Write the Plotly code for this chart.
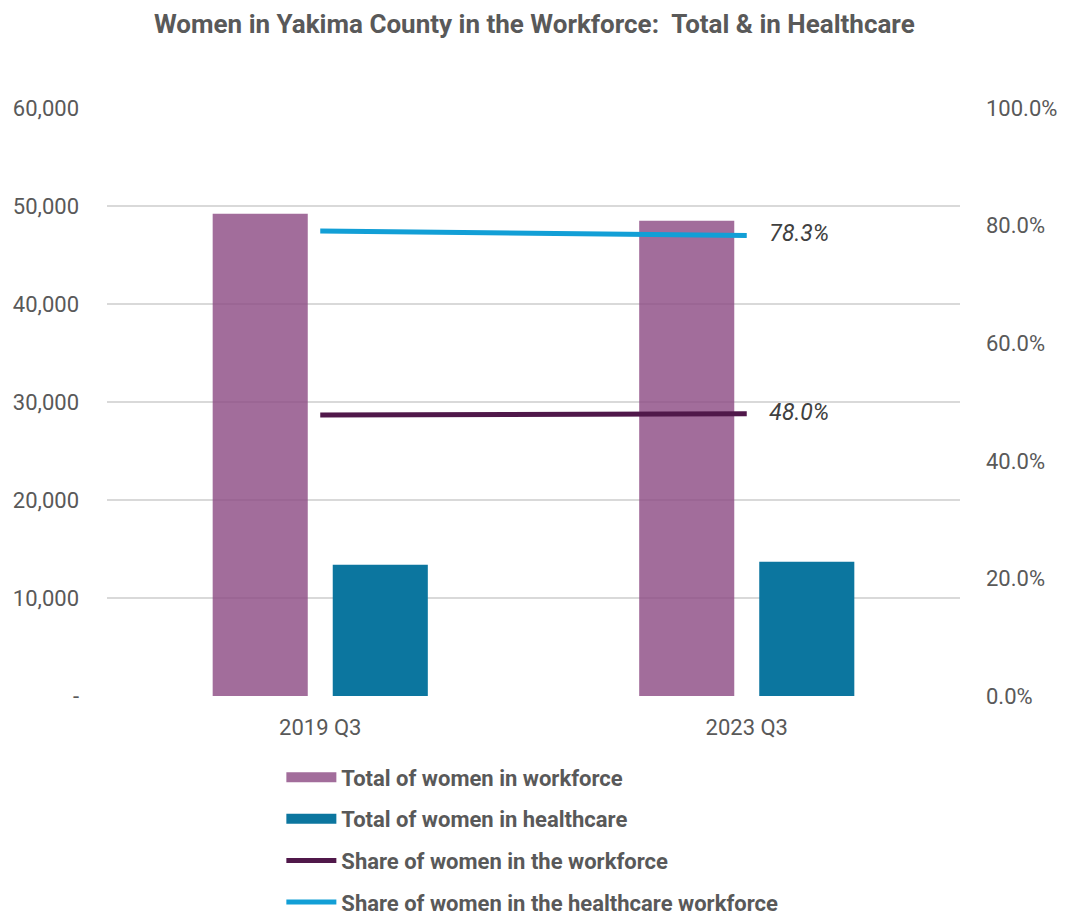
import plotly.graph_objects as go

# Données du graphique
quarters = ["2019 Q3", "2023 Q3"]
women_workforce = [49200, 48500]
women_healthcare = [13400, 13700]
share_workforce = [0.478, 0.480]
share_healthcare = [0.791, 0.783]

left_ticks = [0, 10000, 20000, 30000, 40000, 50000, 60000]
left_labels = ["-", "10,000", "20,000", "30,000", "40,000", "50,000", "60,000"]

font_main = "Roboto, Arial"
grey = "#595959"
purple = "rgba(139,72,130,0.8)"
teal = "#0C769F"

fig = go.Figure()

# Barres (axe principal) - légende remplacée par des rectangles larges
fig.add_trace(go.Bar(
    x=quarters, y=women_workforce, name="Total of women in workforce",
    marker=dict(color=purple, line=dict(width=0)),
    showlegend=False, hoverinfo="skip"
))
fig.add_trace(go.Bar(
    x=quarters, y=women_healthcare, name="Total of women in healthcare",
    marker=dict(color=teal, line=dict(width=0)),
    showlegend=False, hoverinfo="skip"
))

# entrées de légende pour les barres
fig.add_trace(go.Scatter(
    x=[None], y=[None], mode="lines", name="Total of women in workforce",
    line=dict(color=purple, width=14), legendgroup="a"
))
fig.add_trace(go.Scatter(
    x=[None], y=[None], mode="lines", name="Total of women in healthcare",
    line=dict(color=teal, width=14), legendgroup="b"
))

# Lignes (axe secondaire)
fig.add_trace(go.Scatter(
    x=quarters, y=share_workforce, name="Share of women in the workforce",
    mode="lines+text", yaxis="y2",
    line=dict(color="#50184A", width=5),
    text=["", "    " + f"{share_workforce[-1]:.1%}"], textposition="middle right",
    textfont=dict(family=font_main, size=23, color="#404040", style="italic"),
    legendgroup="c", hoverinfo="skip"
))
fig.add_trace(go.Scatter(
    x=quarters, y=share_healthcare, name="Share of women in the healthcare workforce",
    mode="lines+text", yaxis="y2",
    line=dict(color="#129FD6", width=5),
    text=["", "    " + f"{share_healthcare[-1]:.1%}"], textposition="middle right",
    textfont=dict(family=font_main, size=23, color="#404040", style="italic"),
    legendgroup="d", hoverinfo="skip"
))

# la page a une marge de 8px : on décale tout
fig.update_layout(
    width=1072, height=924,
    margin=dict(l=99, r=120, t=100, b=236, autoexpand=False),
    paper_bgcolor="white", plot_bgcolor="white",
    font=dict(family=font_main, color=grey, size=22),
    title=dict(
        text="<b>Women in Yakima County in the Workforce:  Total & in Healthcare</b>",
        x=0.491, xanchor="center", y=0.983, yanchor="middle",
        font=dict(family=font_main, size=26, color=grey)
    ),
    barmode="group", bargap=0.437, bargroupgap=0.208,
    xaxis=dict(showgrid=False, showline=False, ticks="", ticklabelstandoff=16,
               tickfont=dict(size=22, color=grey)),
    yaxis=dict(range=[0, 60000], tickvals=left_ticks, ticktext=left_labels,
               showgrid=True, gridcolor="#D9D9D9", gridwidth=1.5,
               zeroline=False, showline=False, ticks="", ticklabelstandoff=27,
               tickfont=dict(size=22, color=grey)),
    yaxis2=dict(range=[0, 1], overlaying="y", side="right", dtick=0.2,
                tickformat=".1%", showgrid=False, zeroline=False, showline=False,
                ticks="", ticklabelstandoff=25,
                tickfont=dict(size=22, color=grey)),
    showlegend=True,
    legend=dict(
        orientation="v", xref="container", x=0.255, xanchor="left",
        yref="container", y=0.19, yanchor="top",
        font=dict(family=font_main, size=22, color=grey, weight="bold"),
        traceorder="grouped", tracegroupgap=10, itemwidth=50,
        bgcolor="rgba(0,0,0,0)"
    ),
)

fig.write_html("out.html")
